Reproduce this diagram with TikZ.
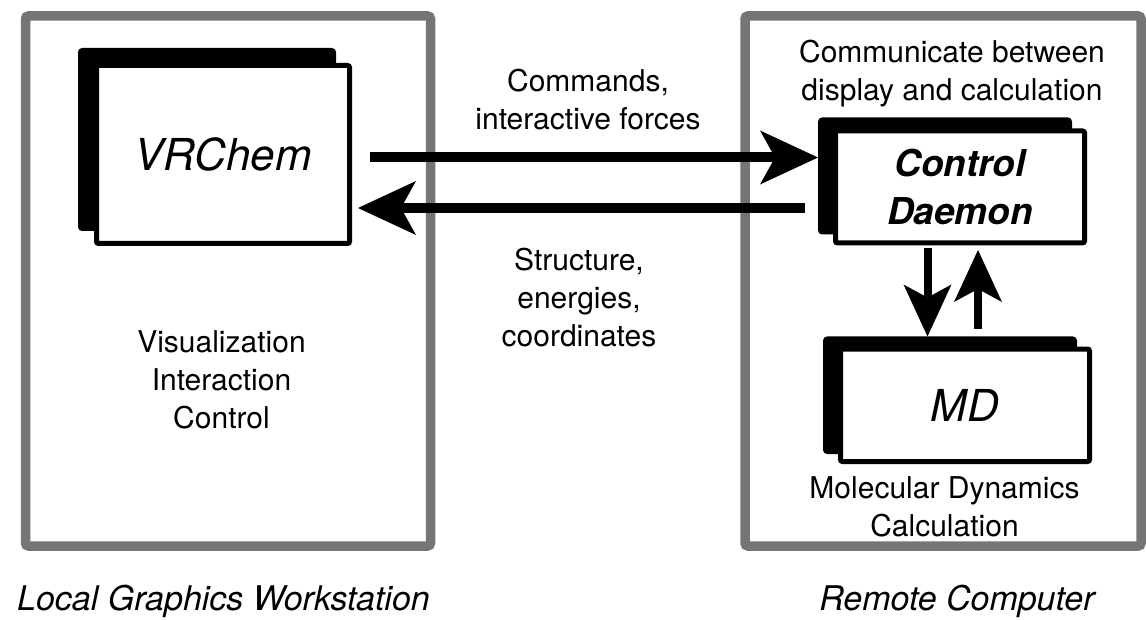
\documentclass[tikz,border=0pt]{standalone}
\usepackage{fontspec}
\setmainfont{TeX Gyre Heros}
\usetikzlibrary{arrows.meta, positioning, calc}

\tikzset{
  hostbox/.style={draw=black!54, line width=9.5pt, rounded corners=3pt, inner sep=0pt},
  frontbox/.style={draw, fill=white, line width=5pt, rounded corners=2pt, inner sep=0pt},
  backbox/.style={draw, fill=black, line width=5pt, rounded corners=2pt, inner sep=0pt},
  lbl/.style={font=\fontsize{30}{38}\selectfont, align=center, inner sep=0pt, anchor=north},
  hostlbl/.style={font=\fontsize{34}{40}\selectfont\itshape, inner sep=0pt, anchor=base},
  wide/.style={line width=10pt, -{Stealth[length=58pt, width=54pt, inset=15pt, line width=0pt]}},
  narrow/.style={line width=8pt, -{Stealth[length=52pt, width=48pt, inset=13pt, line width=0pt]}},
}

\begin{document}
\begin{tikzpicture}[x=1pt, y=-1pt]
    \useasboundingbox (0,0) rectangle (1146,620);
    % the two computers
    \node[hostbox, minimum width=405pt, minimum height=530pt] (local) at (228,281) {};
    \node[hostbox, minimum width=396pt, minimum height=530pt] (remote) at (943,281) {};
    \node[hostlbl] (localname) at (223.5,610) {Local Graphics Workstation};
    \node[hostlbl] (remotename) at (957,610) {Remote Computer};

    % programs, each with a black shadow behind
    \node[backbox, minimum width=253pt, minimum height=178pt] (vrback) at (207,139.5) {};
    \node[frontbox, minimum width=253pt, minimum height=178pt, font=\fontsize{44}{50}\selectfont\itshape]
        (vrchem) at ([shift={(16,15)}]vrback.center) {VRChem};
    \node[backbox, minimum width=249pt, minimum height=112pt] (daemonback) at (945,176) {};
    \node[frontbox, minimum width=249pt, minimum height=112pt, align=center,
        font=\fontsize{37}{48}\selectfont\bfseries\itshape]
        (daemon) at ([shift={(15,11)}]daemonback.center) {Control\\Daemon};
    \node[backbox, minimum width=249pt, minimum height=112.5pt] (mdback) at (950,395.25) {};
    \node[frontbox, minimum width=249pt, minimum height=112.5pt, font=\fontsize{44}{50}\selectfont\itshape]
        (md) at ([shift={(15,10)}]mdback.center) {MD};

    \node[lbl] (vistext) at (221.5,330) {Visualization\\Interaction\\Control};
    \node[lbl] (commtext) at (952,39.5) {Communicate between\\display and calculation};
    \node[lbl] (mdtext) at (944.5,476.4) {Molecular Dynamics\\Calculation};
    \node[lbl] (cmdtext) at (588,68.4) {Commands,\\interactive forces};
    \node[lbl] (datatext) at (579,247.4) {Structure,\\energies,\\coordinates};

    % data flow
    \coordinate (cmdtail) at (370,157.5);
    \coordinate (datatail) at (805,208);
    \draw[wide] (cmdtail) -- (cmdtail -| daemonback.west);
    \draw[wide, shorten >=6pt] (datatail) -- (datatail -| vrchem.east);
    \draw[narrow, shorten <=2.5pt] ([xshift=-32.5pt]daemon.south) -- ([xshift=-32.5pt]daemon.south |- mdback.north);
    \draw[narrow, shorten <=7.5pt, shorten >=4.5pt] ([xshift=18pt]daemon.south |- mdback.north) -- ([xshift=18pt]daemon.south);
\end{tikzpicture}
\end{document}
